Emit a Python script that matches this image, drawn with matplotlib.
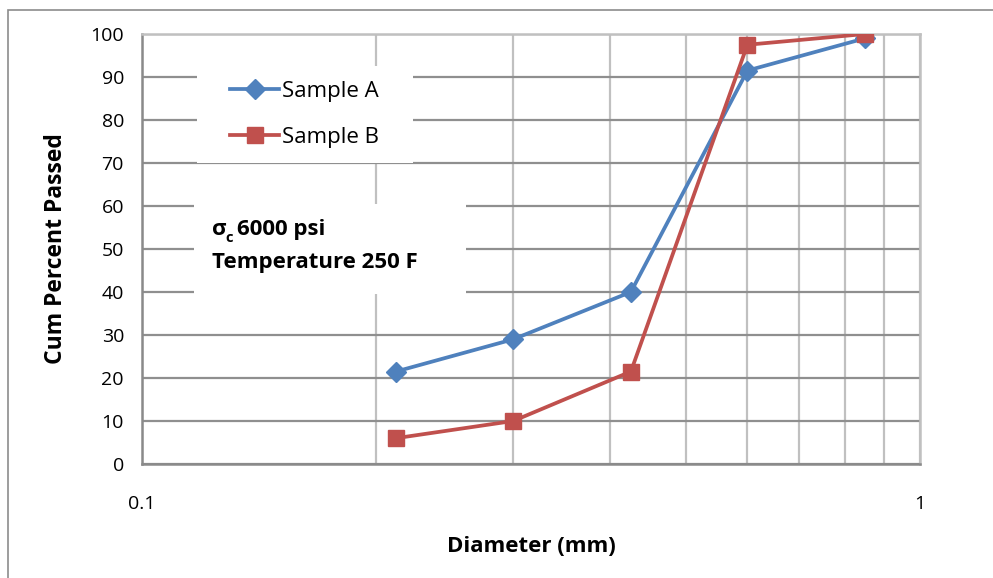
import matplotlib
matplotlib.use("Agg")
import matplotlib.pyplot as plt
from matplotlib.patches import Rectangle
from matplotlib.ticker import FixedLocator, NullFormatter

plt.rcParams['font.family'] = ['Open Sans', 'DejaVu Sans']

# sieve openings (mm) and cumulative percent passed
diameter = [0.212, 0.3, 0.425, 0.6, 0.85]
sample_a = [21.5, 29, 40, 91.5, 99]
sample_b = [6, 10, 21.5, 97.5, 100]
series_names = ["Sample A", "Sample B"]
note_line1 = "6000 psi"
note_line2 = "Temperature 250 F"

blue = "#4F81BD"
red = "#C0504D"

fig = plt.figure(figsize=(9.93, 5.78), dpi=100)
ax = fig.add_axes([142 / 993, 1 - 464 / 578, 778 / 993, 430 / 578])

# outer chart frame (runs off the right/bottom edge like the original)
fig.patches.append(Rectangle((8 / 993, -0.2), 1.2, 1.2 - 10 / 578,
                             transform=fig.transFigure, fill=False,
                             edgecolor="#8c8c8c", linewidth=1.2))

ax.set_xscale("log")
ax.set_xlim(0.1, 1)
ax.set_ylim(0, 100)

ax.plot(diameter, sample_a, color=blue, lw=2.7, marker="D", ms=10,
        label=series_names[0], zorder=3)
ax.plot(diameter, sample_b, color=red, lw=2.7, marker="s", ms=12,
        label=series_names[1], zorder=3)

# grid
ax.set_yticks(range(0, 101, 10))
ax.xaxis.set_major_locator(FixedLocator([0.1, 1]))
ax.xaxis.set_minor_locator(FixedLocator([0.2, 0.3, 0.4, 0.5, 0.6, 0.7, 0.8, 0.9]))
ax.xaxis.set_minor_formatter(NullFormatter())
ax.set_xticklabels(["0.1", "1"])
ax.set_axisbelow(True)
ax.grid(True, axis="y", color="#8f8f8f", lw=1.6)
ax.grid(True, axis="x", which="both", color="#c0c0c0", lw=1.6)

for s in ax.spines.values():
    s.set_color("#8a8a8a")
    s.set_linewidth(1.8)
for side in ("top", "right"):
    ax.spines[side].set_color("#c0c0c0")

ax.tick_params(axis="both", which="both", length=0, labelsize=14)
ax.tick_params(axis="x", pad=22)
ax.tick_params(axis="y", pad=13)

ax.set_xlabel("Diameter (mm)", fontsize=16, fontweight="bold", labelpad=17)
ax.set_ylabel("Cum Percent Passed", fontsize=16.5, fontweight="bold", labelpad=16)

# legend on a white box
ax.add_patch(Rectangle((0.0707, 0.70), 0.277, 0.226, transform=ax.transAxes,
                       facecolor="white", edgecolor="none", zorder=1))
ax.legend(loc="center", bbox_to_anchor=(0.0707, 0.70, 0.277, 0.226),
          frameon=False, fontsize=16, handlelength=2.2, handletextpad=0.15,
          labelspacing=1.15, borderaxespad=0)

# note box
ax.add_patch(Rectangle((0.0668, 0.395), 0.35, 0.21, transform=ax.transAxes,
                       facecolor="white", edgecolor="none", zorder=1))
ax.text(0.0898, 0.545, "σ", transform=ax.transAxes, fontsize=16,
        fontweight="bold", va="center", ha="left", zorder=4)
ax.annotate("c", xy=(0.0898, 0.545), xycoords="axes fraction",
            xytext=(10, -6), textcoords="offset points", fontsize=10.5,
            fontweight="bold", va="center", ha="left", zorder=4)
ax.annotate(note_line1, xy=(0.0898, 0.545), xycoords="axes fraction",
            xytext=(18, 0), textcoords="offset points", fontsize=16,
            fontweight="bold", va="center", ha="left", zorder=4)
ax.text(0.0898, 0.468, note_line2, transform=ax.transAxes, fontsize=16,
        fontweight="bold", va="center", ha="left", zorder=4)

fig.savefig("out.png", dpi=100)
